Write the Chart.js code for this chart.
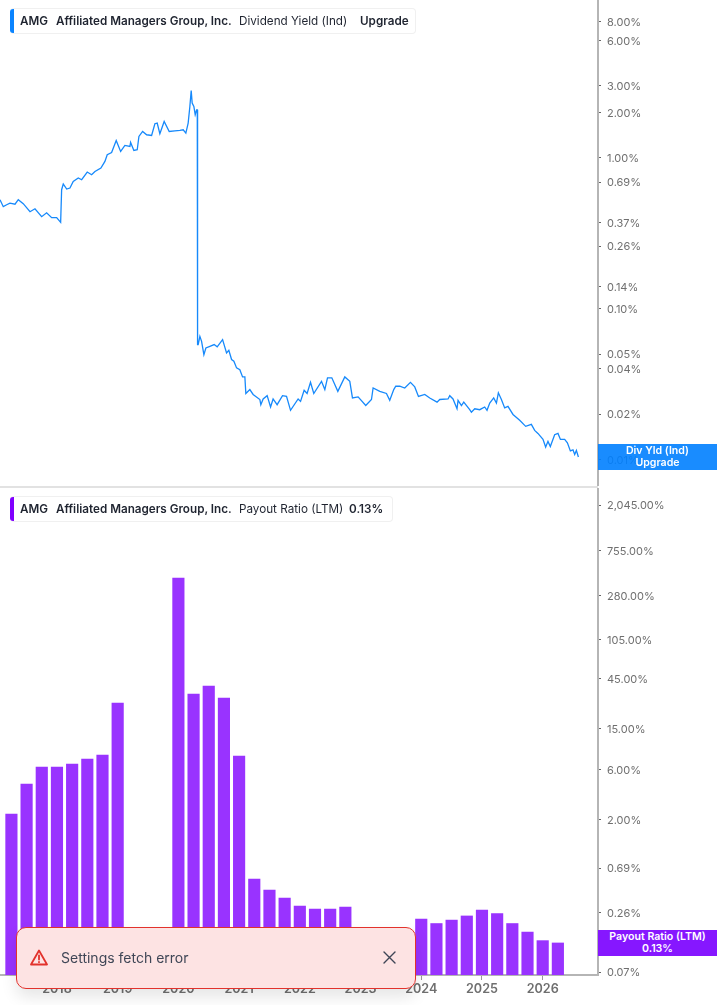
<!DOCTYPE html>
<html>
<head>
<meta charset="utf-8">
<title>AMG</title>
<script src="https://cdn.jsdelivr.net/npm/chart.js@4"></script>
<style>
    html, body { margin: 0; padding: 0; background: #fff; overflow: hidden; }
    body { width: 717px; height: 1005px; position: relative; font-family: Inter, sans-serif; }
    canvas { position: absolute; left: 0; }
    #divCanvas { top: 0; }
    #payoutCanvas { top: 488px; }
    .divider { position: absolute; left: 0; top: 486px; width: 598px; height: 2px; background: #e2e2e2; }
    .legend { position: absolute; left: 10px; height: 24px; border: 1px solid #f0f0f0; border-left: 0; border-radius: 4px; background: #fff; font-size: 11.7px; line-height: 24px; color: #1f2430; }
    .legend i { position: absolute; left: 0; top: 0; width: 4px; height: 24px; border-radius: 3px 0 0 3px; }
    .legend span { position: absolute; top: 0; white-space: nowrap; font-weight: 400; }
    .legend b { font-weight: 600; }
    .tag { position: absolute; left: 598px; width: 119px; height: 26px; color: #fff; font-size: 10.6px; font-weight: 600; line-height: 11.5px; text-align: center; padding-top: 1px; box-sizing: border-box; }
    .toast { position: absolute; left: 16px; top: 927px; width: 400px; height: 62px; box-sizing: border-box; background: #fde3e3; border: 1px solid #e2322c; border-radius: 10px; box-shadow: 0 8px 16px rgba(0,0,0,.1); color: #3f4656; font-size: 14px; line-height: 60px; }
    .toast span { position: absolute; left: 44px; top: 0; }
    .toast svg { position: absolute; }
</style>
</head>
<body>
<canvas id="divCanvas" width="717" height="486"></canvas>
<canvas id="payoutCanvas" width="717" height="517"></canvas>
<div class="divider"></div>

<div class="legend" style="top:8px;width:405px">
    <i style="background:#0a84ff"></i>
    <span style="left:10px"><b>AMG</b></span>
    <span style="left:46px"><b>Affiliated Managers Group, Inc.</b></span>
    <span style="left:229px">Dividend Yield (Ind)</span>
    <span style="left:350px"><b>Upgrade</b></span>
</div>
<div class="legend" style="top:496px;width:382px">
    <i style="background:#8000ff"></i>
    <span style="left:10px"><b>AMG</b></span>
    <span style="left:46px"><b>Affiliated Managers Group, Inc.</b></span>
    <span style="left:229px">Payout Ratio (LTM)</span>
    <span style="left:339px"><b>0.13%</b></span>
</div>

<div class="tag" style="top:444px;background:rgba(0,128,255,.9)">Div Yld (Ind)<br>Upgrade</div>
<div class="tag" style="top:930px;background:#8617ff">Payout Ratio (LTM)<br>0.13%</div>

<div class="toast">
    <svg style="left:13px;top:21px" width="18" height="17" viewBox="0 0 18 17" fill="none" stroke="#e2322c" stroke-width="1.8" stroke-linejoin="round" stroke-linecap="round">
        <path d="M9 1.5 L17 15.5 H1 Z"/><path d="M9 6.5 V10.5"/><path d="M9 13 V13.2"/>
    </svg>
    <span>Settings fetch error</span>
    <svg style="left:366px;top:23px" width="13" height="13" viewBox="0 0 13 13" stroke="#3f4656" stroke-width="1.4" stroke-linecap="round">
        <path d="M1 1 L12 12 M12 1 L1 12"/>
    </svg>
</div>

<script>
const divYears = [
    2017.062, 2017.116, 2017.172, 2017.226, 2017.309, 2017.363, 2017.445, 2017.556, 2017.638, 2017.748,
    2017.830, 2017.913, 2017.995, 2018.061, 2018.077, 2018.104, 2018.160, 2018.214, 2018.268, 2018.351,
    2018.407, 2018.499, 2018.571, 2018.626, 2018.724, 2018.790, 2018.828, 2018.900, 2018.976, 2019.049,
    2019.119, 2019.202, 2019.213, 2019.267, 2019.322, 2019.350, 2019.411, 2019.477, 2019.559, 2019.613,
    2019.651, 2019.695, 2019.766, 2019.849, 2019.942, 2020.025, 2020.079, 2020.123, 2020.161, 2020.189,
    2020.211, 2020.227, 2020.255, 2020.277, 2020.300, 2020.311, 2020.316,
    2020.326, 2020.354, 2020.382, 2020.420, 2020.453, 2020.519, 2020.589, 2020.639, 2020.728, 2020.793,
    2020.831, 2020.876, 2020.914, 2020.958, 2021.012, 2021.057, 2021.095, 2021.111, 2021.177, 2021.231,
    2021.342, 2021.358, 2021.396, 2021.462, 2021.518, 2021.560, 2021.626, 2021.715, 2021.781, 2021.847,
    2021.972, 2022.012, 2022.071, 2022.120, 2022.176, 2022.230, 2022.357, 2022.412, 2022.456, 2022.527,
    2022.626, 2022.741, 2022.823, 2022.867, 2022.960, 2023.086, 2023.180, 2023.207, 2023.317, 2023.427,
    2023.481, 2023.547, 2023.580, 2023.646,
    2023.728, 2023.822, 2023.893, 2023.954, 2024.058, 2024.140, 2024.260, 2024.305, 2024.441, 2024.469,
    2024.523, 2024.589, 2024.606, 2024.662, 2024.700, 2024.798, 2024.826, 2024.881, 2024.963, 2025.045,
    2025.083, 2025.128, 2025.193, 2025.238, 2025.270, 2025.320, 2025.374, 2025.428, 2025.511, 2025.621,
    2025.720, 2025.813, 2025.868, 2025.922, 2026.005, 2026.049, 2026.087, 2026.126, 2026.197, 2026.252,
    2026.292, 2026.362, 2026.407, 2026.456, 2026.499, 2026.527, 2026.555, 2026.588
];
const divYield = [
    .527, .474, .488, .500, .492, .527, .496, .439, .459, .407,
    .432, .401, .401, .373, .614, .670, .620, .630, .697, .734,
    .715, .804, .772, .811, .855, .945, 1.047, 1.084, 1.302, 1.101,
    1.206, 1.188, 1.263, 1.118, 1.130, 1.384, 1.494, 1.420, 1.405, 1.680,
    1.697, 1.442, 1.740, 1.494, 1.509, 1.516, 1.532, 1.457, 1.697, 2.186,
    2.790, 2.303, 2.186, 1.926, 2.079, 2.079, .0578,
    .0578, .0655, .0607, .0496, .0549, .0563, .0578, .0558, .0623, .0509,
    .0530, .0460, .0448, .0405, .0394, .0353, .0353, .0274, .0291, .0270,
    .0250, .0231, .0252, .0265, .0223, .0252, .0231, .0265, .0262, .0212,
    .0252, .0243, .0288, .0274, .0325, .0274, .0330, .0291, .0348, .0348,
    .0283, .0353, .0330, .0256, .0260, .0228, .0250, .0298, .0283, .0274,
    .0247, .0291, .0306, .0306,
    .0298, .0325, .0303, .0262, .0270, .0256, .0240, .0250, .0252, .0265,
    .0252, .0217, .0247, .0228, .0240, .0214, .0206, .0217, .0214, .0223,
    .0212, .0237, .0256, .0237, .0277, .0250, .0220, .0225, .0199, .0182,
    .0166, .0171, .0156, .0149, .0136, .0121, .0132, .0122, .0146, .0149,
    .0136, .0136, .0129, .0114, .0116, .0108, .0115, .0104
];
const payoutYears = [
    2017.25, 2017.5, 2017.75, 2018, 2018.25, 2018.5, 2018.75, 2019,
    2020, 2020.25, 2020.5, 2020.75, 2021, 2021.25, 2021.5, 2021.75,
    2022, 2022.25, 2022.5, 2022.75, 2023, 2023.25, 2023.5, 2023.75,
    2024, 2024.25, 2024.5, 2024.75, 2025, 2025.25, 2025.5, 2025.75, 2026, 2026.25
];
// 2023 to 2023.75 sit behind the toast, those four are a guess
const payoutRatio = [
    2.27, 4.40, 6.40, 6.40, 6.83, 7.63, 8.33, 26.2,
    410, 31.9, 38.0, 29.2, 8.14, .543, .426, .358,
    .300, .281, .281, .293, .16, .16, .16, .17,
    .225, .204, .220, .241, .275, .254, .204, .169, .140, .133
];
const divTicks = [8, 6, 3, 2, 1, .69, .37, .26, .14, .10, .05, .04, .02, .01];
const payoutTicks = [2045, 755, 280, 105, 45, 15, 6, 2, .69, .26, .07];
const yearTicks = [2018, 2019, 2020, 2021, 2022, 2023, 2024, 2025, 2026];

const xMin = 2017.062, xMax = 2026.911;
const axisColor = '#b5b5b5';
const labelColor = '#6f6f6f';

function pctLabel(v) {
    return v.toLocaleString('en-US', { minimumFractionDigits: 2, maximumFractionDigits: 2 }) + '%';
}

function yAxis(min, max, tickValues) {
    return {
        type: 'logarithmic',
        position: 'right',
        min: min,
        max: max,
        afterBuildTicks: (s) => { s.ticks = tickValues.map(v => ({ value: v, major: false })); },
        afterFit: (s) => { s.width = 119; s.paddingTop = 0; s.paddingBottom = 0; },
        border: { color: axisColor, width: 2 },
        grid: { drawOnChartArea: false, drawTicks: true, tickLength: 3, color: '#666' },
        ticks: {
            autoSkip: false, maxRotation: 0, padding: 6, labelOffset: 1, color: labelColor,
            font: { family: 'Inter', size: 11 },
            callback: (v) => pctLabel(v)
        }
    };
}

new Chart(document.getElementById('divCanvas').getContext('2d'), {
    type: 'line',
    data: {
        datasets: [{
            data: divYears.map((yr, i) => ({ x: yr, y: divYield[i] })),
            borderColor: '#1689fb',
            borderWidth: 1.3,
            pointRadius: 0,
            tension: 0
        }]
    },
    options: {
        responsive: false,
        animation: false,
        plugins: { legend: { display: false }, tooltip: { enabled: false } },
        layout: { padding: 0 },
        scales: {
            x: { type: 'linear', min: xMin, max: xMax, display: false },
            y: yAxis(.00668, 11.1, divTicks)
        }
    }
});

new Chart(document.getElementById('payoutCanvas').getContext('2d'), {
    type: 'bar',
    data: {
        datasets: [{
            data: payoutYears.map((yr, i) => ({ x: yr, y: payoutRatio[i] })),
            backgroundColor: '#9933ff',
            barThickness: 11.5
        }]
    },
    options: {
        responsive: false,
        animation: false,
        plugins: { legend: { display: false }, tooltip: { enabled: false } },
        layout: { padding: 0 },
        scales: {
            x: {
                type: 'linear',
                offset: false,
                min: xMin,
                max: xMax,
                afterBuildTicks: (s) => { s.ticks = yearTicks.map(v => ({ value: v })); },
                afterFit: (s) => { s.height = 30; s.paddingLeft = 0; s.paddingRight = 0; },
                border: { color: axisColor, width: 2 },
                grid: { drawOnChartArea: false, drawTicks: true, tickLength: 5, color: '#999', offset: false },
                ticks: {
                    autoSkip: false, maxRotation: 0, padding: 2, color: labelColor,
                    font: { family: 'Inter', size: 12.6, weight: '600' },
                    callback: (v) => String(v)
                }
            },
            y: yAxis(.0657, 2974, payoutTicks)
        }
    }
});
</script>
</body>
</html>
